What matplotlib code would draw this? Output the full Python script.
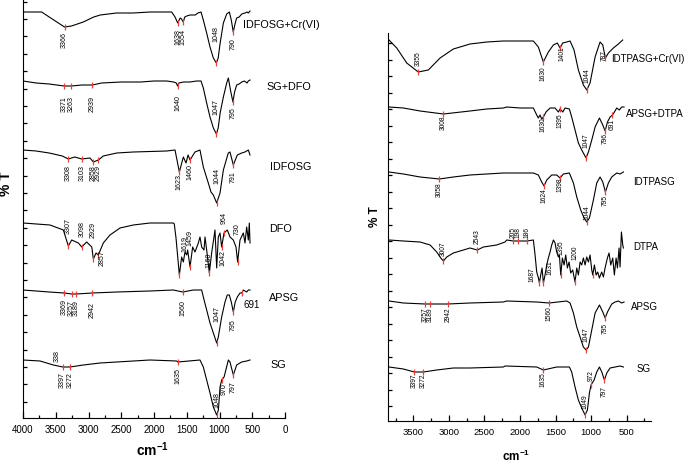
import numpy as np
import matplotlib
matplotlib.use('Agg')
import matplotlib.pyplot as plt
from matplotlib.ticker import MultipleLocator

plt.rcParams['font.family'] = ['Liberation Sans', 'DejaVu Sans']
plt.rcParams['mathtext.fontset'] = 'custom'
plt.rcParams['mathtext.rm'] = 'Liberation Sans'
plt.rcParams['mathtext.bf'] = 'Liberation Sans:bold'

# ---- left panel spectra (wavenumber, %T on a stacked arbitrary scale) ----
idfosg_cr_wn = [4000, 3715, 3600, 3460, 3366, 3260, 3080, 2920, 2820, 2570, 2316, 2060, 1806, 1730, 1679, 1638,
                1600, 1580, 1554, 1530, 1500, 1450, 1400, 1370, 1330, 1282, 1247, 1196, 1145, 1094, 1048, 1020,
                990, 941, 890, 850, 820, 790, 760, 738, 700, 660, 611, 580, 560, 534]
idfosg_cr_t = [406, 406, 401, 395, 391, 392, 396, 401, 403, 405, 405, 406, 406, 406, 401, 395,
               400, 399, 396, 401, 402, 403, 403, 403, 405, 406, 398, 385, 371, 360, 355, 360,
               375, 395, 404, 406, 398, 386, 395, 400, 401, 404, 405, 406, 405, 407]

sg_dfo_wn = [4000, 3800, 3600, 3371, 3263, 3100, 2939, 2800, 2500, 2200, 2000, 1806, 1700, 1660, 1640, 1620,
             1550, 1450, 1350, 1282, 1247, 1196, 1145, 1094, 1047, 1020, 990, 941, 890, 865, 830, 795, 770,
             738, 700, 660, 620, 580, 560, 534]
sg_dfo_t = [337, 335, 334, 332, 332, 333, 333, 335, 336, 336, 337, 337, 336, 335, 332, 335,
            336, 336, 337, 337, 330, 315, 301, 290, 284, 290, 305, 321, 335, 340, 327, 316, 326,
            333, 334, 336, 337, 335, 337, 338]

idfosg_wn = [4000, 3800, 3600, 3400, 3308, 3210, 3103, 2977, 2926, 2850, 2774, 2569, 2316, 1806, 1679, 1613,
             1552, 1511, 1480, 1450, 1374, 1298, 1247, 1171, 1130, 1094, 1043, 992, 941, 866, 840, 789, 728,
             661, 611, 560, 534]
idfosg_t = [268, 267, 265, 262, 259, 261, 259, 260, 256, 258, 262, 265, 266, 267, 268, 246,
            261, 255, 263, 258, 266, 268, 251, 235, 226, 223, 215, 225, 248, 265, 266, 253, 263,
            265, 266, 268, 263]

dfo_wn = [4000, 3588, 3384, 3308, 3257, 3155, 3103, 3028, 2950, 2926, 2885, 2850, 2774, 2672, 2519, 2316,
          2061, 1705, 1690, 1664, 1613, 1578, 1552, 1527, 1501, 1486, 1450, 1410, 1374, 1323, 1298, 1272,
          1237, 1221, 1196, 1155, 1120, 1084, 1069, 1043, 1018, 992, 967, 931, 880, 840, 789, 748, 723,
          687, 636, 611, 585, 560, 545, 534]
dfo_t = [195, 193, 188, 172, 178, 175, 171, 176, 171, 159, 165, 163, 175, 183, 190, 193,
         195, 195, 194, 180, 143, 161, 156, 166, 163, 168, 151, 171, 166, 175, 181, 171,
         168, 181, 168, 145, 165, 181, 188, 150, 181, 185, 171, 185, 188, 181, 178, 171, 156,
         178, 185, 175, 191, 178, 195, 175]

apsg_l_wn = [4000, 3600, 3369, 3257, 3189, 2942, 2569, 2061, 1705, 1560, 1400, 1272, 1247, 1196, 1145, 1094,
             1043, 1018, 967, 916, 881, 850, 820, 789, 760, 728, 687, 661, 636, 611, 585, 560, 534]
apsg_l_t = [128, 126, 125, 124, 124, 125, 126, 127, 128, 126, 128, 128, 121, 108, 95, 85,
            75, 81, 101, 116, 123, 123, 116, 106, 116, 121, 125, 125, 128, 127, 126, 128, 128]

sg_l_wn = [4000, 3740, 3537, 3394, 3282, 3079, 2824, 2316, 2061, 1654, 1635, 1298, 1247, 1196, 1145, 1094,
           1043, 1017, 992, 967, 930, 865, 840, 789, 738, 662, 585, 534]
sg_l_t = [58, 57, 53, 51, 51, 53, 55, 57, 58, 57, 56, 58, 51, 38, 25, 11,
          3, 8, 31, 38, 41, 58, 56, 43, 53, 56, 57, 58]

# ---- right panel spectra ----
idtpasg_cr_wn = [3842, 3733, 3593, 3430, 3289, 3124, 2937, 2703, 2468, 2234, 1812, 1742, 1672, 1601, 1531,
                 1475, 1437, 1399, 1343, 1296, 1240, 1179, 1109, 1061, 1015, 944, 874, 836, 799, 757, 687,
                 617, 556]
idtpasg_cr_t = [381, 373, 358, 349, 351, 363, 372, 377, 379, 380, 380, 374, 359, 369, 376,
                378, 373, 378, 379, 380, 371, 351, 336, 331, 338, 364, 379, 376, 363, 368, 373,
                377, 381]

apsg_dtpa_wn = [3842, 3640, 3405, 3077, 2703, 2468, 2234, 2187, 1999, 1812, 1765, 1742, 1718, 1695, 1672,
                1634, 1577, 1507, 1460, 1437, 1399, 1367, 1306, 1273, 1226, 1179, 1132, 1071, 1038, 991,
                944, 883, 836, 803, 770, 733, 700, 672, 640, 603, 570, 537]
apsg_dtpa_t = [314, 313, 310, 307, 310, 312, 313, 314, 313, 313, 306, 303, 306, 302, 304,
               309, 313, 313, 309, 312, 309, 313, 312, 304, 291, 278, 271, 263, 269, 281,
               294, 303, 296, 290, 299, 304, 306, 309, 313, 311, 314, 314]

idtpasg_wn = [3842, 3640, 3405, 3134, 2937, 2703, 2234, 1812, 1742, 1695, 1662, 1624, 1554, 1484, 1437,
              1390, 1306, 1249, 1202, 1146, 1099, 1061, 1024, 968, 921, 874, 836, 799, 757, 710, 640,
              593, 546]
idtpasg_t = [249, 247, 244, 242, 244, 246, 248, 248, 246, 239, 235, 241, 246, 246, 243,
             247, 248, 238, 224, 211, 203, 199, 203, 221, 238, 244, 239, 229, 238, 244, 248,
             247, 249]

dtpa_wn = [3842, 3640, 3405, 3264, 3171, 3114, 3077, 3030, 2937, 2796, 2703, 2600, 2515, 2328, 2210, 2187,
           2093, 2023, 1906, 1812, 1788, 1765, 1741, 1727, 1709, 1690, 1671, 1648, 1624, 1601, 1577, 1554,
           1530, 1507, 1484, 1460, 1446, 1427, 1404, 1380, 1357, 1334, 1310, 1287, 1259, 1226, 1202, 1179,
           1155, 1132, 1109, 1085, 1062, 1038, 1015, 991, 977, 954, 930, 907, 884, 851, 827, 804, 771, 748,
           724, 696, 673, 649, 630, 607, 593, 574, 555, 546]
dtpa_t = [181, 180, 179, 176, 169, 163, 160, 164, 168, 171, 173, 171, 174, 176, 179, 181,
          180, 180, 180, 181, 166, 149, 143, 138, 146, 153, 138, 146, 156, 163, 169, 176,
          181, 178, 169, 164, 166, 146, 163, 156, 166, 153, 159, 148, 151, 139, 153, 146,
          159, 156, 163, 156, 164, 159, 166, 151, 146, 156, 146, 149, 143, 149, 144, 153, 163, 168,
          156, 163, 146, 163, 153, 173, 154, 189, 176, 173]

apsg_r_wn = [3842, 3640, 3335, 3264, 3016, 2703, 2234, 2187, 1765, 1592, 1343, 1296, 1249, 1202, 1155,
             1109, 1071, 1038, 991, 944, 883, 836, 803, 770, 710, 663, 617, 570, 537]
apsg_r_t = [120, 118, 117, 117, 117, 118, 119, 120, 119, 118, 120, 118, 108, 94, 84,
            74, 71, 74, 91, 108, 116, 109, 103, 109, 117, 119, 120, 118, 119]

sg_r_wn = [3842, 3640, 3485, 3358, 3171, 2937, 2703, 2234, 2210, 1765, 1672, 1484, 1306, 1273, 1226, 1179,
           1132, 1085, 1052, 1024, 1001, 958, 921, 883, 850, 813, 780, 733, 663, 593, 546]
sg_r_t = [54, 52, 49, 49, 51, 53, 53, 54, 55, 54, 51, 54, 54, 49, 34, 21,
          13, 6, 11, 28, 36, 41, 49, 54, 49, 41, 48, 53, 54, 55, 54]

# peak tags: (wavenumber, text, dx, dy) offsets in pixels of the text centre from the marker
left_spectra = [
    ('IDFOSG+Cr(VI)', idfosg_cr_wn, idfosg_cr_t, (637, 393),
     [(3366, '3366', 0, -13), (1638, '1638', 0, -14), (1554, '1554', 0, -15), (1048, '1048', 0, 29),
      (790, '790', 0, -12)]),
    ('SG+DFO', sg_dfo_wn, sg_dfo_t, (280, 331),
     [(3371, '3371', 0, -18), (3263, '3263', 0, -18), (2939, '2939', 0, -19), (1640, '1640', 0, -17),
      (1047, '1047', 0, 27), (795, '795', 0, -11)]),
    ('IDFOSG', idfosg_wn, idfosg_t, (229, 251),
     [(3308, '3308', 0, -14), (3103, '3103', 0, -14), (2926, '2858', 0, -11), (2850, '2929', 0, -13),
      (1613, '1623', 0, -10), (1450, '1460', 0, -12), (1043, '1044', 0, 27), (789, '791', 0, -12)]),
    ('DFO', dfo_wn, dfo_t, (249, 189),
     [(3308, '3307', 0, 20), (3103, '3098', 0, 18), (2926, '2929', 0, 29), (2850, '2857', 4, -3),
      (1613, '1619', 6, 31), (1450, '1459', 0, 29), (1155, '1160', 0, 13), (967, '1042', 1, -11),
      (931, '964', 0, 15), (723, '730', 0, 33)]),
    ('APSG', apsg_l_wn, apsg_l_t, (240, 120),
     [(3369, '3369', 0, -14), (3257, '3257', 0, -14), (3189, '3189', 0, -14), (2942, '2942', 0, -17),
      (1560, '1560', 0, -16), (1043, '1047', 0, 29), (789, '795', 0, -13)]),
    ('SG', sg_l_wn, sg_l_t, (218, 53),
     [(3394, '3397', 0, -13), (3282, '3272', 0, -13), (1635, '1635', 0, -14), (1043, '1048', 0, 15),
      (967, '970', 2, -9), (789, '797', 0, -12)]),
]

right_spectra = [
    ('IDTPASG+Cr(VI)', idtpasg_cr_wn, idtpasg_cr_t, (724, 362),
     [(3430, '3355', 0, 13), (1672, '1630', 0, -12), (1437, '1401', 2, -6), (1061, '1044', 0, 14),
      (799, '787', -1, 2)]),
    ('APSG+DTPA', apsg_dtpa_wn, apsg_dtpa_t, (508, 307),
     [(3077, '3008', 0, -9), (1672, '1630', 0, -8), (1437, '1395', 0, -12), (1071, '1047', 0, 17),
      (803, '796', 0, -8), (700, '691', 0, -9)]),
    ('IDTPASG', idtpasg_wn, idtpasg_t, (406, 239),
     [(3134, '3058', 0, -11), (1662, '1624', 0, -10), (1437, '1398', 0, -7), (1061, '1044', 0, 9),
      (799, '795', 0, -8)]),
    ('DTPA', dtpa_wn, dtpa_t, (406, 174),
     [(3077, '3007', 0, 12), (2600, '2543', 0, 13), (2093, '205', 0, 8), (2023, '198', 0, 8),
      (1906, '186', 0, 8), (1727, '1687', -7, 8), (1671, '1631', 7, 15), (1427, '1395', 0, 27),
      (1226, '1200', 0, 29), (977, '', 0, 0)]),
    ('APSG', apsg_r_wn, apsg_r_t, (443, 114),
     [(3335, '3257', 0, -11), (3264, '3189', 0, -11), (3016, '2942', 0, -11), (1592, '1560', 0, -11),
      (1071, '1047', 0, 15), (803, '795', 0, -10)]),
    ('SG', sg_r_wn, sg_r_t, (358, 52),
     [(3485, '3397', 0, -9), (3358, '3272', 0, -9), (1672, '1635', 0, -10), (1085, '1049', 0, 13),
      (1001, '972', 0, 9), (813, '797', 0, -12)]),
]

RED = '#e8413c'


def draw_panel(ax, spectra, peak_fs, name_fs):
    for name, wn, t, name_at, peaks in spectra:
        ax.plot(wn, t, color='black', lw=0.8, solid_joinstyle='round')
        for w, txt, dx, dy in peaks:
            y = np.interp(w, wn[::-1], t[::-1])
            ax.plot([w], [y], marker='|', color=RED, ms=4.5, mew=0.9, ls='none', zorder=3)
            if txt:
                ax.annotate(txt, (w, y), xytext=(dx, dy), textcoords='offset pixels',
                            rotation=90, ha='center', va='center', fontsize=peak_fs,
                            annotation_clip=False)
        ax.text(name_at[0], name_at[1], name, ha='left', va='center', fontsize=name_fs)


def style_axes(ax, major, tick_fs, ytick_step, ytick_off):
    for s in ['top', 'right']:
        ax.spines[s].set_visible(False)
    ax.xaxis.set_major_locator(MultipleLocator(major))
    ax.xaxis.set_minor_locator(MultipleLocator(major / 2))
    ax.yaxis.set_major_locator(MultipleLocator(ytick_step, offset=ytick_off))
    ax.tick_params(axis='x', which='major', direction='in', length=4, width=0.9, labelsize=tick_fs, pad=5)
    ax.tick_params(axis='x', which='minor', direction='in', length=2.5, width=0.9)
    ax.tick_params(axis='y', which='major', direction='in', length=3, width=0.9, labelleft=False)
    ax.tick_params(top=False, right=False)


fig = plt.figure(figsize=(6.85, 4.63), dpi=100)

# left panel
ax1 = fig.add_axes([23 / 685, 45 / 463, 262 / 685, 418 / 463])
ax1.set_xlim(4000, 0)
ax1.set_ylim(0, 418)
draw_panel(ax1, left_spectra, 5.1, 7.8)
# separate horizontal tag on APSG and the overlapped 338 tag on SG
y691 = np.interp(661, apsg_l_wn[::-1], apsg_l_t[::-1])
ax1.plot([661], [y691], marker='|', color=RED, ms=4.5, mew=0.9, ls='none', zorder=3)
ax1.annotate('691', (661, y691), xytext=(2, -12), textcoords='offset pixels', ha='left', va='center',
             fontsize=7, annotation_clip=False)
y338 = np.interp(3476, sg_l_wn[::-1], sg_l_t[::-1])
ax1.annotate('338', (3476, y338), xytext=(0, 10), textcoords='offset pixels', rotation=90,
             ha='center', va='center', fontsize=5.1)
style_axes(ax1, 500, 7, 17.4, 16.3)

# right panel
ax2 = fig.add_axes([388 / 685, 42 / 463, 263 / 685, 388 / 463])
ax2.set_xlim(3856, 158)
ax2.set_ylim(0, 388)
draw_panel(ax2, right_spectra, 4.8, 7)
style_axes(ax2, 500, 6.8, 16.5, 15)
ax2.set_xticks([3500, 3000, 2500, 2000, 1500, 1000, 500])

# axis titles
fig.text(6 / 685, 1 - 184 / 463, '% T', rotation=90, ha='center', va='center', fontsize=10, fontweight='bold')
fig.text(375 / 685, 1 - 217 / 463, '% T', rotation=90, ha='center', va='center', fontsize=8.5, fontweight='bold')
fig.text(152 / 685, 1 - 450 / 463, r'cm$^{\mathbf{-1}}$', ha='center', va='center', fontsize=10, fontweight='bold')
fig.text(516 / 685, 1 - 456 / 463, r'cm$^{\mathbf{-1}}$', ha='center', va='center', fontsize=8.5, fontweight='bold')

fig.savefig('out.png', dpi=100)
